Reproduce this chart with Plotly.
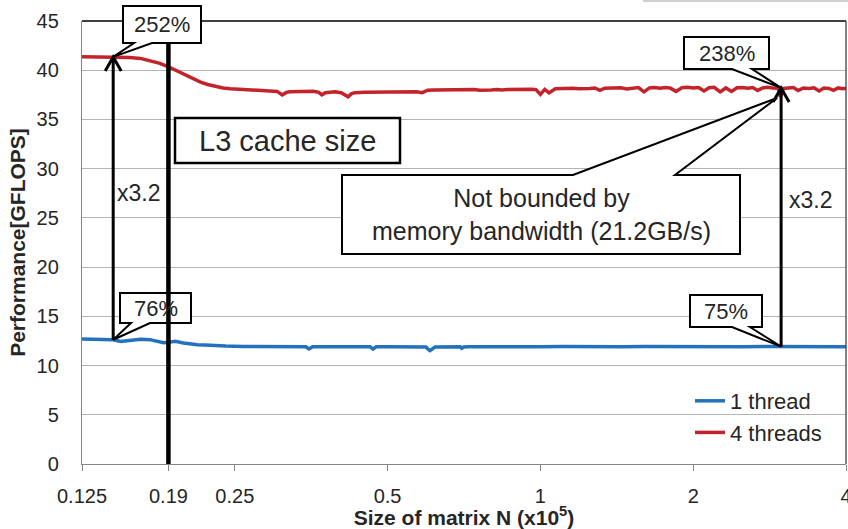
import numpy as np
import plotly.graph_objects as go

# ---------------- data ----------------
# matrix size N (x10^5) and measured GFLOPS, 1 thread
BLUE_X = [0.125, 0.135, 0.144, 0.149, 0.155, 0.163, 0.170, 0.176, 0.181, 0.186,
          0.191, 0.198, 0.204, 0.211, 0.218, 0.228, 0.24, 0.26, 0.28, 0.30,
          0.33, 0.345, 0.35, 0.356, 0.38, 0.41, 0.44, 0.462, 0.468, 0.475,
          0.50, 0.54, 0.58, 0.595, 0.60, 0.606, 0.62, 0.66, 0.695, 0.70,
          0.706, 0.72, 0.78, 0.85, 0.92, 1.0, 1.1, 1.2, 1.3, 1.45,
          1.6, 1.8, 2.0, 2.2, 2.5, 2.8, 3.0, 3.3, 3.6, 4.0]
BLUE_Y = [12.70, 12.68, 12.62, 12.45, 12.55, 12.66, 12.63, 12.50, 12.33, 12.38,
          12.46, 12.30, 12.19, 12.12, 12.10, 12.02, 11.98, 11.93, 11.92, 11.92,
          11.92, 11.90, 11.68, 11.90, 11.92, 11.92, 11.92, 11.90, 11.68, 11.90,
          11.92, 11.92, 11.92, 11.88, 11.70, 11.52, 11.88, 11.92, 11.90, 11.75,
          11.88, 11.92, 11.90, 11.93, 11.91, 11.92, 11.94, 11.91, 11.93, 11.92,
          11.94, 11.91, 11.93, 11.92, 11.90, 11.93, 11.92, 11.94, 11.91, 11.92]

# matrix size N (x10^5) and measured GFLOPS, 4 threads
RED_X = [0.125, 0.135, 0.145, 0.155, 0.163, 0.172, 0.178, 0.185, 0.192, 0.200,
         0.207, 0.214, 0.221, 0.229, 0.237, 0.245, 0.256, 0.268, 0.280, 0.293,
         0.303, 0.310, 0.316, 0.321, 0.333, 0.345, 0.357, 0.366, 0.371, 0.377,
         0.385, 0.394, 0.405, 0.418, 0.424, 0.431, 0.45, 0.47, 0.49, 0.51,
         0.53, 0.55, 0.57, 0.585, 0.593, 0.60,
         0.62, 0.64, 0.66, 0.68, 0.70, 0.72, 0.74, 0.76, 0.78, 0.80,
         0.82, 0.84, 0.86, 0.88, 0.90, 0.92, 0.94, 0.96, 0.98, 1.00,
         1.02, 1.04, 1.07, 1.10, 1.13, 1.16, 1.19, 1.22, 1.25, 1.28,
         1.31, 1.34, 1.37, 1.40, 1.44, 1.48, 1.52, 1.56, 1.60, 1.64,
         1.68, 1.72, 1.76, 1.80, 1.85, 1.90, 1.95, 2.00, 2.05, 2.10,
         2.15, 2.20, 2.26, 2.32, 2.38, 2.44, 2.50, 2.56, 2.62, 2.68,
         2.74, 2.80, 2.87, 2.94, 2.97, 3.01, 3.08, 3.15, 3.22, 3.30,
         3.38, 3.46, 3.54, 3.62, 3.70, 3.78, 3.86, 3.94, 4.00]
RED_Y = [41.37, 41.37, 41.35, 41.30, 41.20, 40.95, 40.70, 40.35, 39.95, 39.50,
         39.15, 38.80, 38.55, 38.33, 38.20, 38.12, 38.05, 37.99, 37.95, 37.92,
         37.85, 37.50, 37.75, 37.82, 37.85, 37.83, 37.86, 37.75, 37.50, 37.72,
         37.80, 37.80, 37.72, 37.30, 37.60, 37.72, 37.75, 37.75, 37.76, 37.77,
         37.78, 37.80, 37.82, 37.72, 37.85, 37.97,
         37.98, 38.00, 37.95, 38.02, 37.97, 38.00, 38.03, 37.96, 38.02, 38.00,
         38.04, 37.98, 38.03, 38.05, 38.00, 38.06, 38.02, 38.07, 38.03, 37.55,
         38.05, 37.70, 38.12, 38.15, 38.10, 38.17, 38.12, 38.18, 38.15, 38.20,
         37.95, 38.18, 38.20, 38.16, 38.22, 38.10, 38.20, 38.24, 37.80, 38.20,
         38.25, 38.18, 38.24, 38.20, 37.85, 38.22, 38.26, 38.20, 38.25, 37.90,
         38.22, 38.26, 37.80, 38.20, 37.85, 38.22, 38.25, 38.18, 38.24, 37.95,
         38.20, 38.26, 38.20, 38.18, 37.30, 38.15, 38.20, 38.25, 37.95, 38.20,
         38.15, 38.22, 37.90, 38.20, 38.15, 37.95, 38.20, 38.12, 38.18]

assert len(BLUE_X) == len(BLUE_Y) and len(RED_X) == len(RED_Y)

SERIES_NAMES = ["1 thread", "4 threads"]
X_TICKS = [0.125, 0.185, 0.25, 0.5, 1, 2, 4]
X_TICK_TEXT = ["0.125", "0.19", "0.25", "0.5", "1", "2", "4"]

L3_N = 0.185              # matrix size where the working set exceeds L3
ARROW_L = (0.144, 12.62, 41.35)   # x, 1-thread value, 4-thread value
ARROW_R = (2.98, 11.92, 38.20)
PCT_LABELS = ["252%", "76%", "238%", "75%"]
SPEEDUP = "x3.2"

# ---------------- geometry helpers ----------------
FIG_W, FIG_H = 848, 529
ML, MR, MT, MB = 82, 2, 21, 65
PW, PH = FIG_W - ML - MR, FIG_H - MT - MB
X_MIN, X_MAX, Y_MIN, Y_MAX = 0.125, 4.0, 0, 45

FONT = "Liberation Sans, Arial, Helvetica, sans-serif"
TXT = "#262626"
BLUE = "#2472BD"
RED = "#C3232B"


def fx(v):
    return (np.log10(v) - np.log10(X_MIN)) / (np.log10(X_MAX) - np.log10(X_MIN))


def fy(v):
    return (v - Y_MIN) / (Y_MAX - Y_MIN)


def px(p):  # page pixel -> paper x
    return (p - ML) / PW


def py(p):  # page pixel -> paper y
    return (MT + PH - p) / PH


def fmt(pts):
    return "M " + " L ".join(f"{a:.5f},{b:.5f}" for a, b in pts) + " Z"


def callout(box, base, tip, side="bottom"):
    x0, y0, x1, y1 = px(box[0]), py(box[1]), px(box[2]), py(box[3])
    b0, b1 = px(base[0]), px(base[1])
    if side == "bottom":
        pts = [(x0, y0), (x1, y0), (x1, y1), (b1, y1), tip, (b0, y1), (x0, y1)]
    else:
        pts = [(x0, y0), (b0, y0), tip, (b1, y0), (x1, y0), (x1, y1), (x0, y1)]
    return dict(type="path", xref="paper", yref="paper", path=fmt(pts),
                fillcolor="white", line=dict(color="black", width=2), layer="above")


def arrow(x, y_lo, y_hi):
    xp = fx(x)
    line = dict(type="line", xref="paper", yref="paper", x0=xp, x1=xp,
                y0=fy(y_lo), y1=fy(y_hi) - 2 / PH, line=dict(color="black", width=3),
                layer="above")
    tip = (xp, fy(y_hi))
    head = dict(type="path", xref="paper", yref="paper",
                path=f"M {xp - 8 / PW:.5f},{tip[1] - 14 / PH:.5f} L {tip[0]:.5f},{tip[1]:.5f} "
                     f"L {xp + 8 / PW:.5f},{tip[1] - 14 / PH:.5f}",
                line=dict(color="black", width=3), layer="above")
    return [line, head]


def box_text(text, box, size):
    return dict(text=text, xref="paper", yref="paper",
                x=px((box[0] + box[2]) / 2), y=py((box[1] + box[3]) / 2),
                xanchor="center", yanchor="middle", showarrow=False,
                font=dict(family=FONT, size=size, color=TXT))


# ---------------- figure ----------------
fig = go.Figure()
fig.add_trace(go.Scatter(x=BLUE_X, y=BLUE_Y, mode="lines", name=SERIES_NAMES[0],
                         line=dict(color=BLUE, width=3.5)))
fig.add_trace(go.Scatter(x=RED_X, y=RED_Y, mode="lines", name=SERIES_NAMES[1],
                         line=dict(color=RED, width=3.5)))

# callout boxes (page pixels) and their tails
BOX_252 = (123, 6, 201, 43)
BOX_76 = (120, 293, 191, 323)
BOX_238 = (684, 37, 769, 69)
BOX_75 = (690, 295, 762, 327)
BOX_NB = (342, 175, 740, 254)
BOX_L3 = (175, 118, 400, 163)

tipL_red = (fx(ARROW_L[0]), fy(ARROW_L[2]))
tipL_blue = (fx(ARROW_L[0]), fy(ARROW_L[1]))
tipR_red = (fx(ARROW_R[0]), fy(ARROW_R[2]))
tipR_blue = (fx(ARROW_R[0]), fy(ARROW_R[1]))
tip_nb = (fx(ARROW_R[0]) - 4 / PW, fy(ARROW_R[2]) - 10 / PH)

shapes = []
# plot-area frame on top and right
shapes.append(dict(type="line", xref="paper", yref="paper", x0=0, x1=1, y0=1, y1=1,
                   line=dict(color="black", width=1.3), layer="above"))
shapes.append(dict(type="line", xref="paper", yref="paper", x0=1, x1=1, y0=0, y1=1,
                   line=dict(color="#404040", width=1.3), layer="above"))
# faint rule across the top right of the page
shapes.append(dict(type="line", xref="paper", yref="paper", x0=px(643), x1=px(848),
                   y0=py(1), y1=py(1), line=dict(color="#D0D0D0", width=2), layer="above"))

shapes.append(callout(BOX_76, (131, 150), tipL_blue))
# L3 cache size boundary
shapes.append(dict(type="line", xref="paper", yref="paper", x0=fx(L3_N), x1=fx(L3_N),
                   y0=0, y1=py(25), line=dict(color="black", width=4.5), layer="above"))
shapes += arrow(*ARROW_L)
shapes.append(callout(BOX_252, (134, 152), tipL_red))
shapes.append(callout(BOX_NB, (573, 675), tip_nb, side="top"))
shapes.append(callout(BOX_75, (732, 750), tipR_blue))
shapes.append(callout(BOX_238, (732, 752), tipR_red))
shapes += arrow(*ARROW_R)
shapes.append(dict(type="rect", xref="paper", yref="paper",
                   x0=px(BOX_L3[0]), x1=px(BOX_L3[2]), y0=py(BOX_L3[1]), y1=py(BOX_L3[3]),
                   fillcolor="white", line=dict(color="black", width=2.5), layer="above"))

annotations = [
    box_text(PCT_LABELS[0], BOX_252, 22),
    box_text(PCT_LABELS[1], BOX_76, 22),
    box_text(PCT_LABELS[2], BOX_238, 22),
    box_text(PCT_LABELS[3], BOX_75, 22),
    box_text("Not bounded by<br>memory bandwidth (21.2GB/s)", BOX_NB, 25),
    box_text("L3 cache size", BOX_L3, 29),
    dict(text=SPEEDUP, xref="paper", yref="paper", x=tipL_red[0] + 2 / PW, y=py(193),
         xanchor="left", yanchor="middle", showarrow=False,
         font=dict(family=FONT, size=23, color=TXT)),
    dict(text=SPEEDUP, xref="paper", yref="paper", x=tipR_red[0] + 6 / PW, y=py(200),
         xanchor="left", yanchor="middle", showarrow=False,
         font=dict(family=FONT, size=23, color=TXT)),
]

fig.update_layout(
    width=FIG_W, height=FIG_H,
    margin=dict(l=ML, r=MR, t=MT, b=MB, pad=0, autoexpand=False),
    paper_bgcolor="white", plot_bgcolor="white",
    font=dict(family=FONT, color=TXT),
    shapes=shapes, annotations=annotations,
    showlegend=True,
    legend=dict(x=px(690), y=py(380), xanchor="left", yanchor="top",
                bgcolor="rgba(0,0,0,0)", font=dict(family=FONT, size=22, color=TXT),
                tracegroupgap=0, itemwidth=30),
    xaxis=dict(type="log", range=[np.log10(X_MIN), np.log10(X_MAX)],
               tickvals=X_TICKS, ticktext=X_TICK_TEXT,
               showgrid=False, zeroline=False,
               showline=True, linecolor="#868686", linewidth=1.3,
               ticks="outside", ticklen=6, tickcolor="#868686", tickwidth=1.3,
               ticklabelstandoff=8, ticklabeloverflow="allow",
               tickfont=dict(family=FONT, size=20, color=TXT),
               title=dict(text="<b>Size of matrix N (x10<sup>5</sup>)</b>", standoff=4,
                          font=dict(family=FONT, size=21, color=TXT))),
    yaxis=dict(range=[Y_MIN, Y_MAX], dtick=5, showgrid=True, gridcolor="#B4B4B4",
               gridwidth=1.3, zeroline=False,
               showline=True, linecolor="#868686", linewidth=1.3, ticks="",
               ticklabelstandoff=18,
               tickfont=dict(family=FONT, size=20, color=TXT),
               title=dict(text="<b>Performance[GFLOPS]</b>", standoff=5,
                          font=dict(family=FONT, size=21, color=TXT))),
)

fig.write_html("out.html")
